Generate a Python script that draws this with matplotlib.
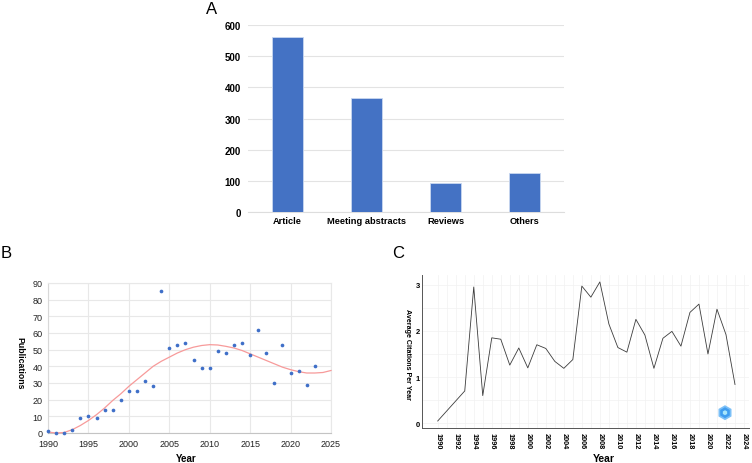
import matplotlib
matplotlib.use('Agg')
import matplotlib.pyplot as plt
from matplotlib.patches import RegularPolygon
from matplotlib.transforms import IdentityTransform

plt.rcParams['font.family'] = ['Liberation Sans', 'DejaVu Sans']

# panel A
doc_types = ['Article', 'Meeting abstracts', 'Reviews', 'Others']
doc_counts = [562, 367, 93, 124]

# panel B
pub_years = list(range(1990, 2024))
pub_counts = [1, 0, 0, 2, 9, 10, 9, 14, 14, 20, 25, 25, 31, 28, 85, 51, 53, 54, 44, 39,
              39, 49, 48, 53, 54, 47, 62, 48, 30, 53, 36, 37, 29, 40]
trend_years = list(range(1990, 2026))
trend_vals = [0.6, 0, 0.3, 2, 4.5, 7.5, 11, 15, 19.5, 23.5, 28, 32, 36, 40, 43, 45.5, 48, 50,
              51.5, 52.5, 53, 52.8, 52, 51, 49.5, 47.5, 45.5, 43.5, 41.5, 39.5, 38, 36.8,
              36, 36, 36.3, 37.5]

# panel C
cit_years = [1990] + list(range(1993, 2024))
cit_vals = [0.05, 0.7, 2.95, 0.6, 1.85, 1.82, 1.26, 1.63, 1.2, 1.7, 1.62, 1.34, 1.19, 1.38,
            2.97, 2.73, 3.06, 2.15, 1.64, 1.54, 2.25, 1.91, 1.19, 1.84, 1.99, 1.67, 2.4,
            2.58, 1.5, 2.47, 1.92, 0.84]

W, H = 752, 464
fig = plt.figure(figsize=(W / 100, H / 100), dpi=100)


def make_axes(left, right, top, bottom):
    # pixel box to figure fractions
    return fig.add_axes([left / W, 1 - bottom / H, (right - left) / W, (bottom - top) / H])


def px_text(x, y, s, **kw):
    fig.text(x / W, 1 - y / H, s, ha=kw.pop('ha', 'center'), va='center', **kw)


# A
ax = make_axes(248, 564, 26, 213)
ax.bar(range(4), doc_counts, width=0.4, color='#4472c4', edgecolor='#c9d8f0', linewidth=0.6, zorder=3)
ax.set_xlim(-0.5, 3.5)
ax.set_ylim(0, 600)
ax.set_yticks(range(0, 601, 100))
ax.set_xticks(range(4))
ax.set_xticklabels(doc_types, fontsize=6.7, fontweight='bold')
ax.tick_params(axis='y', labelsize=7, length=0, pad=5.3)
ax.tick_params(axis='x', length=0, pad=3)
for lab in ax.get_yticklabels():
    lab.set_fontweight('bold')
ax.grid(axis='y', color='#e3e3e3', linewidth=0.8, zorder=0)
for s in ax.spines.values():
    s.set_visible(False)
ax.spines['bottom'].set_visible(True)
ax.spines['bottom'].set_color('#dddddd')

# B
ax = make_axes(48, 331, 284, 434)
ax.plot(trend_years, trend_vals, color='#f79a9a', linewidth=0.9, zorder=3, clip_on=False)
ax.scatter(pub_years, pub_counts, s=7, color='#3f6fc8', linewidths=0, zorder=4, clip_on=False)
ax.set_xlim(1990, 2025)
ax.set_ylim(0, 90)
ax.set_xticks(range(1990, 2026, 5))
ax.set_yticks(range(0, 91, 10))
ax.tick_params(labelsize=6.5, length=0, pad=4, colors='#222222')
ax.grid(True, color='#e8e8e8', linewidth=0.8, zorder=0)
ax.set_axisbelow(True)
for s in ax.spines.values():
    s.set_color('#e8e8e8')
ax.spines['bottom'].set_color('#c4c4c4')
ax.spines['left'].set_color('#d8d8d8')
px_text(186, 459, 'Year', fontsize=7, fontweight='bold')
px_text(20, 363, 'Publications', fontsize=6.3, fontweight='bold', rotation=270)

# C
ax = make_axes(422.3, 749, 276, 429.3)
ax.plot(cit_years, cit_vals, color='#3c3c3c', linewidth=0.6, zorder=3)
ax.set_xlim(1990 - 15.4 / 9.0, 2024 + 5 / 9.0)
ax.set_ylim(-5 / 46.2, 148.3 / 46.2)
ax.set_xticks(range(1990, 2025, 2))
ax.set_xticks(range(1991, 2025, 2), minor=True)
ax.set_yticks([0, 1, 2, 3])
ax.set_yticks([0.5, 1.5, 2.5], minor=True)
ax.tick_params(axis='x', which='major', labelsize=5.3, length=0, pad=3, labelrotation=270)
ax.tick_params(axis='y', which='major', labelsize=5.5, length=0, pad=1.5)
ax.tick_params(which='minor', length=0)
for lab in ax.get_xticklabels() + ax.get_yticklabels():
    lab.set_fontweight('bold')
ax.grid(True, which='both', color='#f1f1f1', linewidth=0.5, zorder=0)
ax.set_axisbelow(True)
ax.spines['top'].set_visible(False)
ax.spines['right'].set_visible(False)
ax.spines['left'].set_color('#555555')
ax.spines['bottom'].set_color('#555555')
ax.spines['left'].set_linewidth(0.7)
ax.spines['bottom'].set_linewidth(0.7)
px_text(604, 459, 'Year', fontsize=7.5, fontweight='bold')
px_text(408, 355, 'Average Citations Per Year', fontsize=5.1, fontweight='bold', rotation=270)

# logo, bottom right of C
for r, col in [(7.5, '#7cc0f7'), (5.5, '#3f9df0'), (2.5, '#a8e6fb')]:
    fig.add_artist(RegularPolygon((725, H - 413.7), 6, radius=r, color=col, linewidth=0,
                                  transform=IdentityTransform()))

# panel letters
px_text(206, 9, 'A', fontsize=12, ha='left')
px_text(1, 254, 'B', fontsize=12, ha='left')
px_text(392, 254, 'C', fontsize=12, ha='left')

fig.savefig('out.png', dpi=100)
